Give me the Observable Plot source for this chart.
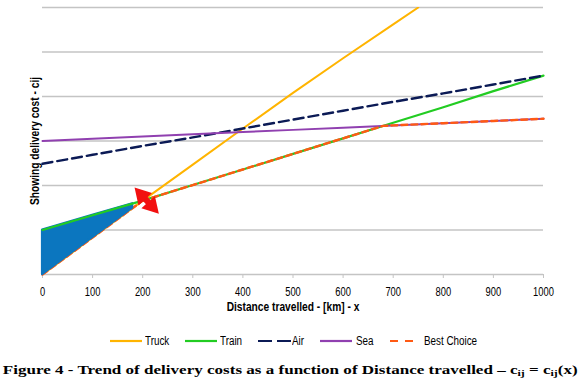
<!DOCTYPE html>
<html>
<head>
<meta charset="utf-8">
<script src="https://cdn.jsdelivr.net/npm/d3@7"></script>
<script src="https://cdn.jsdelivr.net/npm/@observablehq/plot@0.6"></script>
<style>
  html, body { margin: 0; padding: 0; background: #fff; }
  #wrap { position: relative; width: 580px; height: 390px; overflow: hidden; }
  #chart { position: absolute; left: 0; top: 0; }
  #legend { position: absolute; left: 0; top: 334px; width: 580px; height: 14px;
    font-family: "Liberation Sans", Arial, sans-serif; font-size: 12px; color: #000; }
  .item { position: absolute; top: 0; height: 14px; display: flex; align-items: center; }
  .item span { display: inline-block; transform: scaleX(0.82); transform-origin: left center; white-space: nowrap; }
  #caption { position: absolute; left: 0; top: 362px; width: 580px; text-align: center;
    font-family: "Liberation Serif", "Times New Roman", serif; font-weight: bold; font-size: 13px; white-space: nowrap; }
  #caption span { display: inline-block; transform-origin: center center; }
  #caption sub { font-size: 9px; vertical-align: -2px; line-height: 0; }
</style>
</head>
<body>
<div id="wrap">
  <div id="chart"></div>
  <div id="legend"></div>
  <div id="caption"><span id="captext">Figure 4 - Trend of delivery costs as a function of Distance travelled – c<sub>ij</sub> = c<sub>ij</sub>(x)</span></div>
</div>
<script>
// ---- data (cost in gridline units) ----
const distance = [0, 100, 200, 300, 400, 500, 600, 700, 800, 900, 1000];
const truckDistance = [0, 100, 200, 300, 400, 500, 600, 700, 750];
const truckCost = [0, 0.83, 1.66, 2.47, 3.28, 4.08, 4.86, 5.62, 6.0];
const trainCost = [1.00, 1.33, 1.66, 2.01, 2.36, 2.71, 3.06, 3.41, 3.76, 4.12, 4.47];
const airCost   = [2.49, 2.69, 2.89, 3.08, 3.28, 3.48, 3.68, 3.88, 4.07, 4.27, 4.47];
const seaCost   = [3.00, 3.05, 3.10, 3.15, 3.20, 3.25, 3.30, 3.35, 3.40, 3.45, 3.50];
const bestDistance = [0, 100, 200, 300, 400, 500, 600, 680, 700, 800, 900, 1000];
const bestCost     = [0, 0.83, 1.66, 2.01, 2.36, 2.71, 3.06, 3.34, 3.35, 3.40, 3.45, 3.50];
const shadedDistance = [0, 100, 180];
const shadedLow  = [0, 0.83, 1.49];
const shadedHigh = [1.00, 1.33, 1.59];
const gridLevels = [0, 1, 2, 3, 4, 5, 6];
const xTicks = [0, 100, 200, 300, 400, 500, 600, 700, 800, 900, 1000];
const yLabel = "Showing delivery cost - cij";
const xLabel = "Distance travelled - [km] - x";
// annotation: double arrow (head centres and shaft)
const arrowHeads = [
  {x: 198, y: 1.78, rotate: -42.5},
  {x: 218, y: 1.54, rotate: 137.5}
];
const arrowShaft = [{x: 196, y: 1.81}, {x: 220, y: 1.51}];

const colors = {
  Truck: "#FFB400", Train: "#22CC22", Air: "#0B1A55", Sea: "#9040B0", Best: "#FF5A14", Fill: "#0B76BF", Arrow: "#F21010"
};

const toRows = (xs, ys) => xs.map((x, i) => ({x, y: ys[i]}));
const shaded = shadedDistance.map((x, i) => ({x, y1: shadedLow[i], y2: shadedHigh[i]}));

const chart = Plot.plot({
  width: 580,
  height: 318,
  marginTop: 7,
  marginBottom: 44,
  marginLeft: 42,
  marginRight: 37,
  style: { fontFamily: '"Liberation Sans", Arial, sans-serif', fontSize: "12px", color: "#000", background: "#fff" },
  x: { domain: [0, 1000], label: null },
  y: { domain: [0, 6], axis: null },
  marks: [
    Plot.ruleY(gridLevels, {stroke: "#c4c4c4", strokeWidth: 1.3}),
    Plot.axisX({ticks: xTicks, tickFormat: d => String(d), tickSize: 4, stroke: "#c4c4c4", tickPadding: 9, fontSize: 12, label: null}),
    Plot.line(toRows(truckDistance, truckCost), {x: "x", y: "y", stroke: colors.Truck, strokeWidth: 2, clip: true}),
    Plot.line(toRows(bestDistance, bestCost), {x: "x", y: "y", stroke: colors.Best, strokeWidth: 2.4, strokeDasharray: "6,4", filter: d => d.x <= 200}),
    Plot.areaY(shaded, {x: "x", y1: "y1", y2: "y2", fill: colors.Fill, stroke: colors.Fill, strokeWidth: 2.2}),
    Plot.line(toRows(distance, trainCost), {x: "x", y: "y", stroke: colors.Train, strokeWidth: 2.2}),
    Plot.line(toRows(distance, airCost), {x: "x", y: "y", stroke: colors.Air, strokeWidth: 2.4, strokeDasharray: "10,5"}),
    Plot.line(toRows(distance, seaCost), {x: "x", y: "y", stroke: colors.Sea, strokeWidth: 2}),
    Plot.line(toRows(bestDistance, bestCost), {x: "x", y: "y", stroke: colors.Best, strokeWidth: 2.4, strokeDasharray: "6,4", filter: d => d.x >= 200}),
    Plot.line(arrowShaft, {x: "x", y: "y", stroke: colors.Arrow, strokeWidth: 6}),
    Plot.dot(arrowHeads, {x: "x", y: "y", rotate: "rotate", symbol: "triangle", r: 6.8, fill: colors.Arrow, stroke: "none"}),
    Plot.text([yLabel], {frameAnchor: "left", textAnchor: "middle", rotate: -90, dx: -7, fontWeight: "bold", fontSize: 12}),
    Plot.text([xLabel], {frameAnchor: "bottom", dy: 36, fontWeight: "bold", fontSize: 12})
  ]
});
document.getElementById("chart").appendChild(chart);

// condense chart texts (reference uses a narrow typeface)
chart.querySelectorAll("text").forEach(t => {
  const L = t.getComputedTextLength();
  const f = t.textContent === yLabel || t.textContent === xLabel ? 0.85 : 0.78;
  t.setAttribute("textLength", (L * f).toFixed(1));
  t.setAttribute("lengthAdjust", "spacingAndGlyphs");
});

// ---- legend ----
const legendItems = [
  {label: "Truck", color: colors.Truck, dash: null, left: 110, sw: 32, gap: 3},
  {label: "Train", color: colors.Train, dash: null, left: 185, sw: 32, gap: 3},
  {label: "Air", color: colors.Air, dash: "14,5", left: 258, sw: 33, gap: 1},
  {label: "Sea", color: colors.Sea, dash: null, left: 320, sw: 32, gap: 4},
  {label: "Best Choice", color: colors.Best, dash: "8,7", left: 390, sw: 23, gap: 11}
];
const legend = document.getElementById("legend");
for (const it of legendItems) {
  const d = document.createElement("div");
  d.className = "item";
  d.style.left = it.left + "px";
  d.innerHTML = `<svg width="${it.sw + it.gap}" height="6"><line x1="0" y1="3" x2="${it.sw}" y2="3" stroke="${it.color}" stroke-width="2.2" ${it.dash ? `stroke-dasharray="${it.dash}"` : ""}/></svg><span>${it.label}</span>`;
  legend.appendChild(d);
}

// caption stretched to the reference width
const cap = document.getElementById("captext");
const w = cap.getBoundingClientRect().width;
cap.style.transform = `scaleX(${(575 / w).toFixed(3)})`;
</script>
</body>
</html>
